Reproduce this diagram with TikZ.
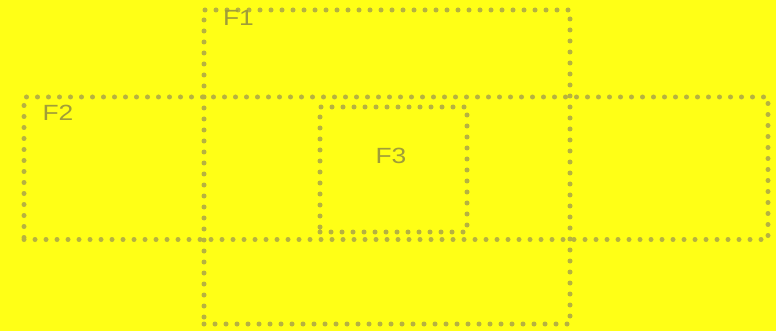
\documentclass[tikz,border=0pt]{standalone}
\usepackage{fontspec}
\setmainfont{Liberation Sans}
\definecolor{bg}{RGB}{255,255,22}
\definecolor{dotc}{RGB}{182,178,64}
\definecolor{txtc}{RGB}{160,157,56}
\begin{document}
\begin{tikzpicture}[x=1pt,y=-1pt,
  frame/.style={draw=dotc, line width=5pt, line cap=round, dash pattern=on 0pt off 11pt, inner sep=0pt, outer sep=0pt, rectangle},
  lbl/.style={text=txtc, font=\fontsize{22}{24}\selectfont, inner sep=0pt, xscale=1.2}]
\fill[bg] (0,0) rectangle (776,331);
\useasboundingbox (0,0) rectangle (776,331);
\node[frame, minimum width=366pt, minimum height=314pt] (F1) at (387,167) {};
\node[frame, minimum width=744pt, minimum height=142.5pt] (F2) at (396,168.25) {};
\node[frame, minimum width=147pt, minimum height=125pt] (F3) at (393.5,169.5) {};
\node[lbl] (t1) at (238.5,18) {F1};
\node[lbl] (t2) at (58,113) {F2};
\node[lbl] (t3) at (391,156) {F3};
\end{tikzpicture}
\end{document}
